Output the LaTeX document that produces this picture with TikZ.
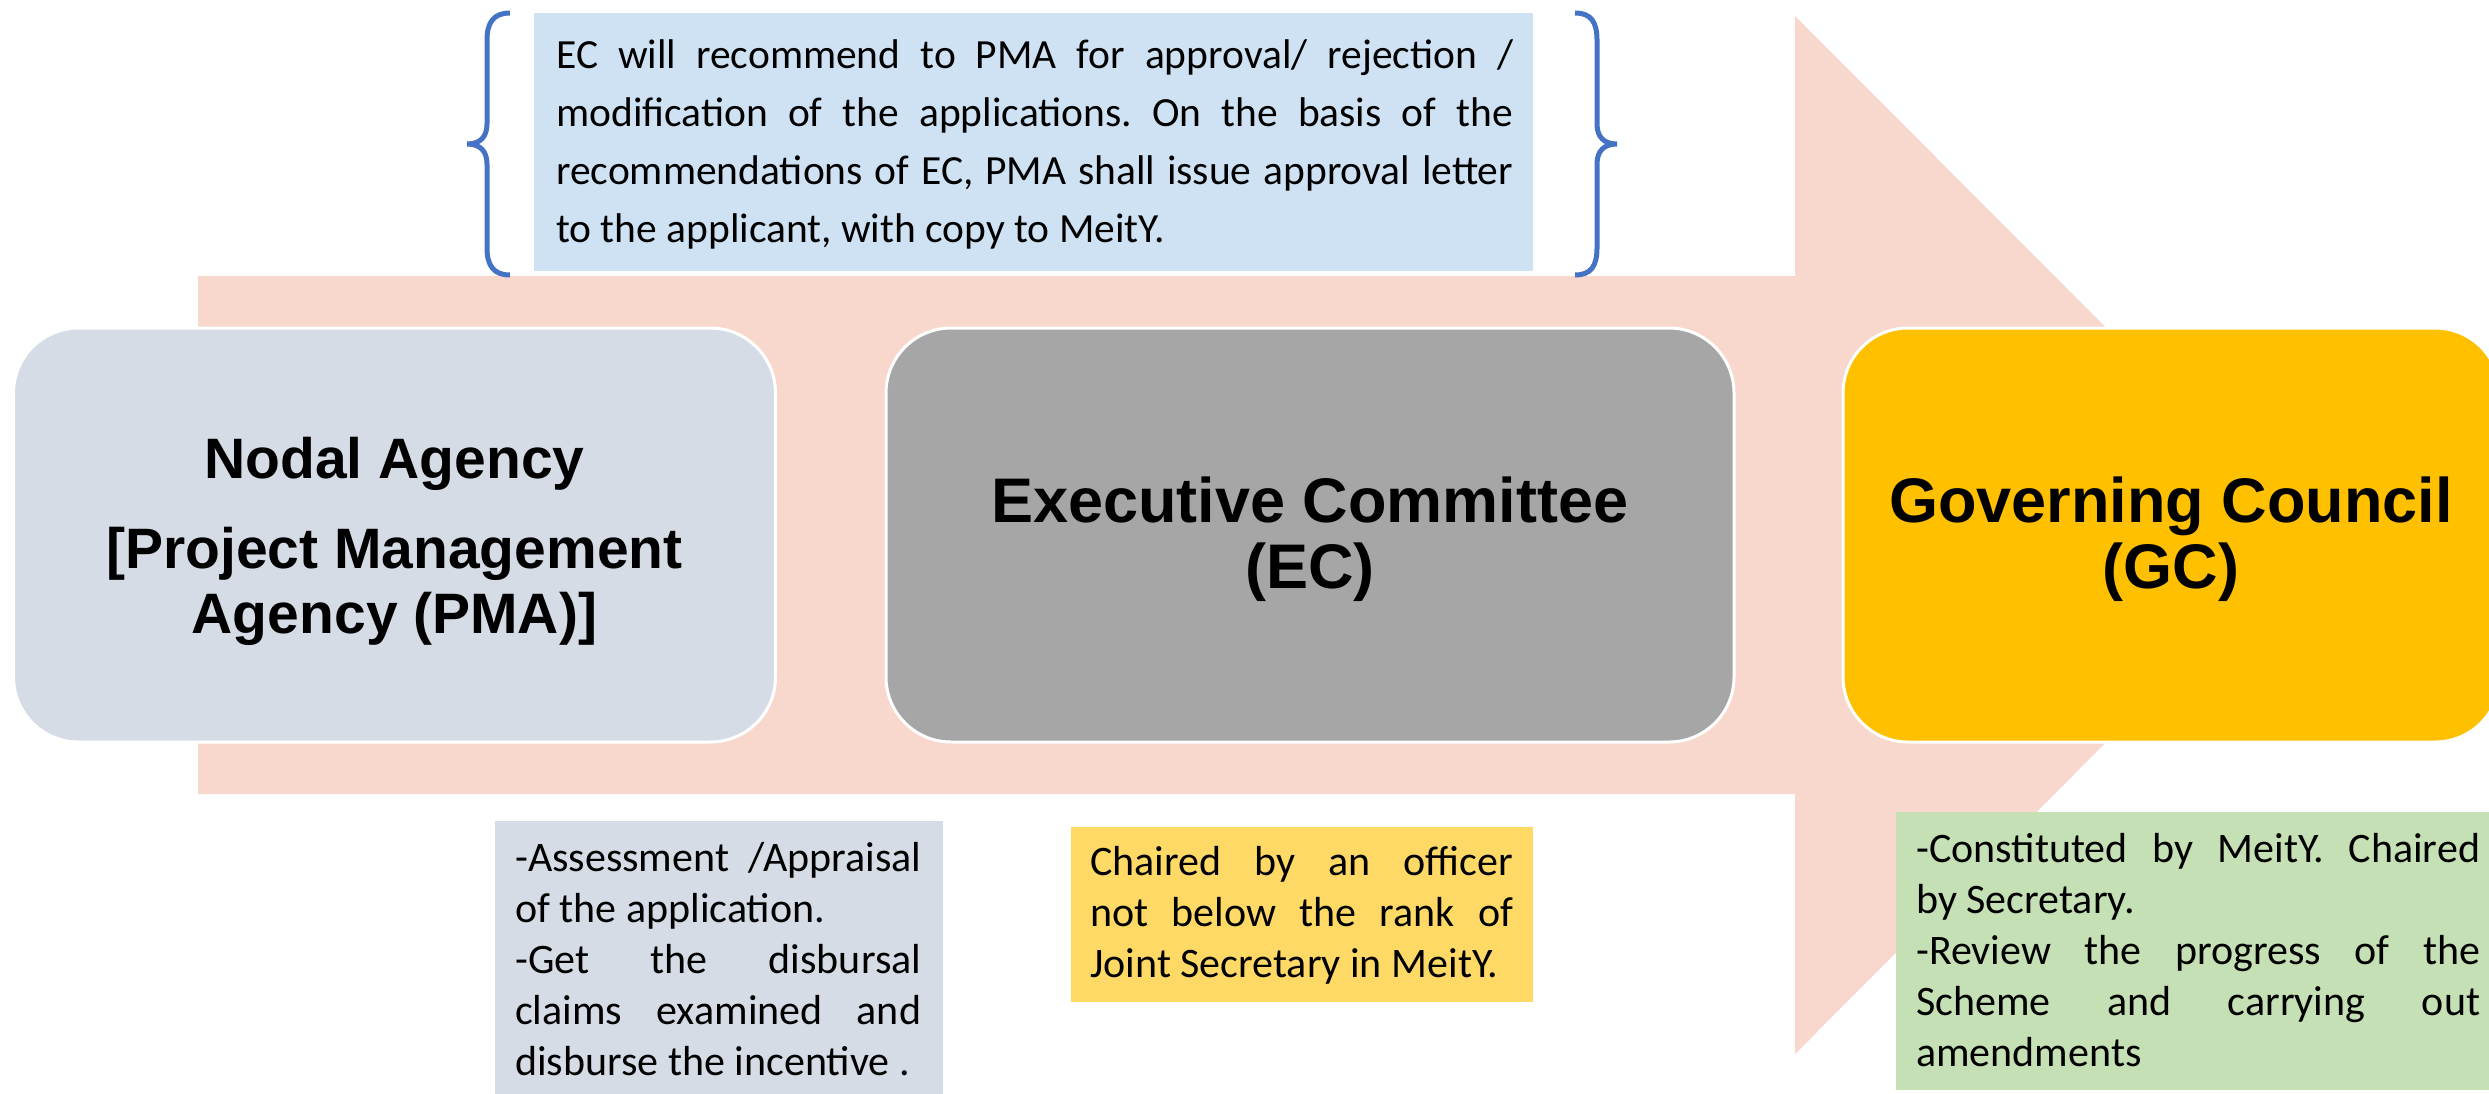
\documentclass[tikz,border=0pt]{standalone}
\usepackage{fontspec}
\setmainfont{Carlito}
\newfontfamily\headfont{Liberation Sans}
\definecolor{pinkA}{HTML}{F8D7CD}
\definecolor{topblue}{HTML}{CFE2F3}
\definecolor{nodalblue}{HTML}{D6DCE5}
\definecolor{ecgrey}{HTML}{A6A6A6}
\definecolor{gcgold}{HTML}{FFC000}
\definecolor{ecyellow}{HTML}{FFD966}
\definecolor{gcgreen}{HTML}{C5E0B4}
\definecolor{braceblue}{HTML}{4472C4}
\frenchspacing
\begin{document}
\begin{tikzpicture}[x=1pt,y=-1pt,
  mainbox/.style={draw=white, line width=3pt, rounded corners=65pt, inner sep=0pt, minimum height=414pt},
  notebox/.style={inner sep=0pt, draw=none, anchor=north west},
  headtext/.style={inner sep=0pt, anchor=base, font=\headfont\bfseries},
  bodytext/.style={inner sep=0pt, anchor=base west, font=\frenchspacing},
  bracestyle/.style={draw=braceblue, line width=5pt}]
\useasboundingbox (0,0) rectangle (2489,1093);
\clip (0,0) rectangle (2489,1093);
% big arrow
\fill[pinkA] (198,276) -- (1795,276) -- (1795,16) -- (2313,535) -- (1795,1054) -- (1795,794) -- (198,794) -- cycle;
% top note
\node[notebox, fill=topblue, minimum width=999pt, minimum height=258pt] (ecnote) at (534,13) {};
\node[bodytext] (ecnotetext) at (556,68) {\parbox[t]{957pt}{\frenchspacing\fontsize{41.5}{58.3}\selectfont
\makebox[\linewidth][s]{EC will recommend to PMA for approval/ rejection /}\\
\makebox[\linewidth][s]{modification of the applications. On the basis of the}\\
\makebox[\linewidth][s]{recommendations of EC, PMA shall issue approval letter}\\
to the applicant, with copy to MeitY.}};
% braces
\draw[bracestyle] (510,13) .. controls (494,13) and (487,22) .. (487,40) -- (487,124)
  .. controls (487,137) and (480,144) .. (467,144) .. controls (480,144) and (487,151) .. (487,164)
  -- (487,248) .. controls (487,266) and (494,275) .. (510,275);
\draw[bracestyle] (1575,13) .. controls (1591,13) and (1597,22) .. (1597,40) -- (1597,124)
  .. controls (1597,137) and (1604,144) .. (1617,144) .. controls (1604,144) and (1597,151) .. (1597,164)
  -- (1597,248) .. controls (1597,266) and (1591,275) .. (1575,275);
% main boxes
\node[mainbox, fill=nodalblue, minimum width=762pt] (nodal) at (394.5,535) {};
\node[mainbox, fill=ecgrey, minimum width=848pt] (ec) at (1310,535) {};
\node[mainbox, fill=gcgold, minimum width=657pt] (gc) at (2171.5,535) {};
\node[headtext] (nodaltext) at (394.5,478) {\parbox[t]{740pt}{\centering\fontsize{57}{65}\selectfont Nodal Agency\\[25pt]{[}Project Management\\Agency (PMA)]}};
\node[headtext] (ectext) at (1310,522) {\parbox[t]{830pt}{\centering\fontsize{63}{66}\selectfont Executive Committee\\(EC)}};
\node[headtext] (gctext) at (2171,522) {\parbox[t]{640pt}{\centering\fontsize{63}{66}\selectfont Governing Council\\(GC)}};
% bottom notes
\node[notebox, fill=nodalblue, minimum width=448pt, minimum height=280pt] (pmanote) at (495,821) {};
\node[bodytext] (pmanotetext) at (515,871) {\parbox[t]{406pt}{\frenchspacing\fontsize{42}{51}\selectfont
\makebox[\linewidth][s]{-Assessment /Appraisal}\\
of the application.\\
\makebox[\linewidth][s]{-Get the disbursal}\\
\makebox[\linewidth][s]{claims examined and}\\
disburse the incentive .}};
\node[notebox, fill=ecyellow, minimum width=462pt, minimum height=175pt] (ecnote2) at (1071,827) {};
\node[bodytext] (ecnote2text) at (1090,875) {\parbox[t]{423pt}{\frenchspacing\fontsize{42}{51}\selectfont
\makebox[\linewidth][s]{Chaired by an officer}\\
\makebox[\linewidth][s]{not below the rank of}\\
Joint Secretary in MeitY.}};
\node[notebox, fill=gcgreen, minimum width=600pt, minimum height=278pt] (gcnote) at (1896,812) {};
\node[bodytext] (gcnotetext) at (1916,862) {\parbox[t]{564pt}{\frenchspacing\fontsize{42}{51}\selectfont
\makebox[\linewidth][s]{-Constituted by MeitY. Chaired}\\
by Secretary.\\
\makebox[\linewidth][s]{-Review the progress of the}\\
\makebox[\linewidth][s]{Scheme and carrying out}\\
amendments}};
\end{tikzpicture}
\end{document}
